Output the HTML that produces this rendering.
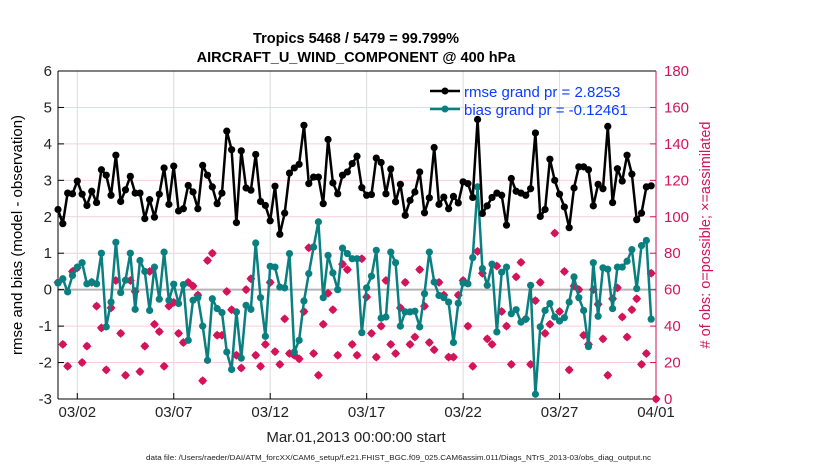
<!DOCTYPE html>
<html><head><meta charset="utf-8">
<style>
body{margin:0;background:#fff;}
svg{display:block;font-family:"Liberation Sans",sans-serif;}
</style></head>
<body>
<svg id="chart" width="830" height="470" viewBox="0 0 830 470">
<text x="356" y="43" text-anchor="middle" font-size="14.5" font-weight="bold">Tropics 5468 / 5479 = 99.799%</text>
<text x="356" y="62" text-anchor="middle" font-size="14.5" font-weight="bold">AIRCRAFT_U_WIND_COMPONENT @ 400 hPa</text>
<g id="grid"></g>
<g id="axes"></g>
<g id="series"></g>
<text transform="translate(22,235) rotate(-90)" text-anchor="middle" font-size="15">rmse and bias (model - observation)</text>
<text transform="translate(710,235) rotate(-90)" text-anchor="middle" font-size="14.5" fill="#d4145a"># of obs: o=possible; ×=assimilated</text>
<text x="356" y="442" text-anchor="middle" font-size="15" fill="#222">Mar.01,2013 00:00:00 start</text>
<text x="146" y="460" font-size="7.5" fill="#222" textLength="505" lengthAdjust="spacingAndGlyphs">data file: /Users/raeder/DAI/ATM_forcXX/CAM6_setup/f.e21.FHIST_BGC.f09_025.CAM6assim.011/Diags_NTrS_2013-03/obs_diag_output.nc</text>
<g id="legend">
<line x1="430" y1="91" x2="460" y2="91" stroke="#000" stroke-width="2.5"/>
<circle cx="445" cy="91" r="3.5" fill="#000"/>
<text x="464" y="97" font-size="15" fill="#0a3cff">rmse grand pr = 2.8253</text>
<line x1="430" y1="109" x2="460" y2="109" stroke="#0a7f80" stroke-width="2.5"/>
<circle cx="445" cy="109" r="3.5" fill="#0a7f80"/>
<text x="464" y="115" font-size="15" fill="#0a3cff">bias grand pr = -0.12461</text>
</g>
</svg>
<script>
const rmseValues=[2.2,1.81,2.65,2.63,2.98,2.62,2.31,2.7,2.39,3.29,3.14,2.59,3.69,2.42,2.74,3.11,2.65,2.65,1.95,2.47,1.99,2.62,3.34,2.34,3.39,2.16,2.22,2.86,2.68,2.22,3.41,3.14,
2.82,2.36,2.65,4.35,3.84,1.84,3.81,2.79,2.73,3.71,2.42,2.31,1.89,2.84,1.52,2.1,3.2,3.34,3.44,4.51,2.91,3.09,3.09,2.36,4.12,2.93,2.63,3.14,3.23,3.46,3.66,
2.8,2.59,2.61,3.61,3.49,2.63,3.31,2.41,2.89,2.04,2.45,2.68,3.23,2.11,2.52,3.9,2.34,2.54,2.22,2.56,2.38,2.96,2.91,2.53,4.67,2.09,2.3,2.53,2.65,2.59,1.77,
3.05,2.7,2.65,2.59,2.77,4.3,2.01,2.2,3.58,3.0,2.62,2.27,1.7,2.79,3.37,3.37,3.29,2.3,2.89,2.77,4.48,2.39,3.32,2.98,3.69,3.17,1.92,2.1,2.82,2.85];
const biasValues=[0.18,0.3,-0.06,0.39,0.62,0.74,0.16,0.21,0.16,1.0,-1.02,-0.34,1.3,-0.08,0.26,1.0,-0.54,0.8,0.5,-0.57,0.62,-0.26,1.03,-0.29,0.15,-0.38,0.14,-1.39,-0.29,-0.22,-1.0,-1.94,
-0.25,-0.52,-0.63,-1.71,-2.19,-0.61,-1.88,-0.43,-0.54,1.28,-0.22,-1.28,0.64,0.62,0.07,0.05,0.99,-1.71,-1.39,-0.31,0.44,1.17,1.86,-0.22,0.94,0.46,0,1.14,0.99,0.85,0.85,
-1.18,0.05,0.37,1.08,-0.78,-0.75,1.03,0.74,-1.0,-0.61,-0.61,-0.59,-1.02,-0.11,1.03,0.21,-0.16,-0.22,-0.34,-1.45,-0.37,0.18,0.16,0.88,2.82,0.58,0.12,0.7,-1.16,0.48,0.62,
-0.66,-0.55,-0.89,-0.81,0.12,-2.87,-1.02,-0.57,-0.38,-0.75,-0.86,-0.77,-0.34,0.35,-0.22,-0.57,-1.56,0.74,-0.73,0.6,0.56,-0.52,0.62,0.62,0.78,1.1,0.03,1.21,1.35,-0.81];
const obsCounts=[64,30,18,70,72,20,29,64,51,39,16,50,65,36,13,65,59,15,29,70,41,37,18,51,53,36,31,64,62,57,10,76,
80,35,35,59,49,24,17,60,66,24,18,30,64,26,19,44,25,24,22,48,83,25,13,41,58,49,24,74,71,30,24,
77,56,36,23,40,65,30,25,50,64,30,34,71,51,31,27,64,57,23,23,57,65,40,18,81,69,33,30,73,48,40,
19,67,75,44,19,54,64,36,41,91,48,70,16,62,60,35,30,60,52,33,13,55,61,45,34,49,55,19,25,69,0];
const xTickLabels=["03/02","03/07","03/12","03/17","03/22","03/27","04/01"];
const xTickDays=[1,6,11,16,21,26,31];
const leftTicks=[-3,-2,-1,0,1,2,3,4,5,6];
const rightTicks=[0,20,40,60,80,100,120,140,160,180];

const NS="http://www.w3.org/2000/svg";
const L=58,R=656,T=71,B=399;
function xDay(d){return L+(d/31)*(R-L);}
function yLeft(v){return B-(v+3)/9*(B-T);}
function yRight(v){return B-v/180*(B-T);}
function mk(tag,attrs,parent){const e=document.createElementNS(NS,tag);for(const k in attrs)e.setAttribute(k,attrs[k]);parent.appendChild(e);return e;}
const grid=document.getElementById('grid'),axes=document.getElementById('axes'),series=document.getElementById('series');

leftTicks.forEach(v=>{
  const y=yLeft(v);
  if(v!==-3&&v!==6){const g=mk('line',{x1:L,x2:R,y1:y,y2:y,stroke:'#f6cfe0','stroke-width':1},grid);
  
  }
  mk('line',{x1:L,x2:L+6,y1:y,y2:y,stroke:'#000','stroke-width':1},axes);
  const t=mk('text',{x:L-6,y:y+5,'text-anchor':'end','font-size':15,fill:'#222'},axes);
  t.textContent=v;
  
  
});
rightTicks.forEach(v=>{
  const y=yRight(v);
  mk('line',{x1:R-6,x2:R,y1:y,y2:y,stroke:'#d4145a','stroke-width':1},axes);
  const t=mk('text',{x:R+8,y:y+5,'font-size':15,fill:'#d4145a'},axes);
  t.textContent=v;
  
  
});
xTickDays.forEach((d,i)=>{
  const x=xDay(d);
  if(d<31){const g=mk('line',{x1:x,x2:x,y1:T,y2:B,stroke:'#dcdcdc','stroke-width':1},grid);
  
  }
  mk('line',{x1:x,x2:x,y1:B,y2:B-6,stroke:'#000','stroke-width':1},axes);
  const t=mk('text',{x:x,y:417,'text-anchor':'middle','font-size':15,fill:'#222'},axes);
  t.textContent=xTickLabels[i];
  
  
});
const zl=mk('line',{x1:L,x2:R,y1:yLeft(0),y2:yLeft(0),stroke:'#b4b4b4','stroke-width':2},grid);


mk('line',{x1:L,x2:R,y1:T,y2:T,stroke:'#000','stroke-width':1},axes);
mk('line',{x1:L,x2:R,y1:B,y2:B,stroke:'#000','stroke-width':1},axes);
mk('line',{x1:L,x2:L,y1:T,y2:B,stroke:'#000','stroke-width':1},axes);
mk('line',{x1:R,x2:R,y1:T,y2:B,stroke:'#d4145a','stroke-width':1},axes);

obsCounts.forEach((v,i)=>{
  const x=xDay(i*0.25>30.75?31:i*0.25),y=yRight(v);
  const g=mk('g',{},series);
  
  
  mk('path',{d:`M${x} ${y-4.5} L${x+4.5} ${y} L${x} ${y+4.5} L${x-4.5} ${y} Z`,fill:'#d4145a'},g);
  mk('circle',{cx:x,cy:y,r:3.5,fill:'#d4145a'},g);
});
function drawLine(vals,color,name){
  const pts=vals.map((v,i)=>xDay(i*0.25).toFixed(1)+','+yLeft(v).toFixed(1)).join(' ');
  const p=mk('polyline',{points:pts,fill:'none',stroke:color,'stroke-width':2.5,'stroke-linejoin':'round'},series);
  
  
  vals.forEach((v,i)=>{
    const c=mk('circle',{cx:xDay(i*0.25),cy:yLeft(v),r:3.6,fill:color},series);
    
    
  });
}
drawLine(biasValues,'#0a7f80','bias');
drawLine(rmseValues,'#000','rmse');
</script>
</body></html>
